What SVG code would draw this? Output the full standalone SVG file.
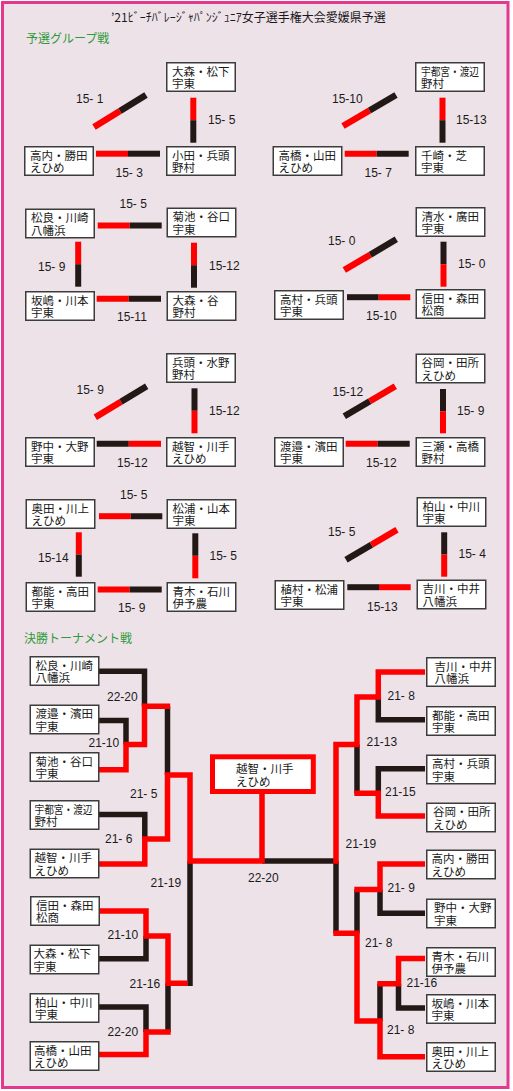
<svg xmlns="http://www.w3.org/2000/svg" width="513" height="1091" viewBox="0 0 513 1091">
<style>
.nm{font-family:"Liberation Sans","Noto Sans CJK JP","Noto Sans CJK SC",sans-serif;font-size:11.5px;fill:#1a1a1a}
.ttl{font-family:"Noto Sans CJK JP","Noto Sans CJK SC",sans-serif;font-size:12px;fill:#1a1a1a}
.hd{font-family:"Noto Sans CJK JP","Noto Sans CJK SC",sans-serif;font-size:12px;fill:#2f9a3a}
.sc{font-family:"Liberation Sans","Noto Sans CJK JP",sans-serif;font-size:12px;fill:#1a1a1a;white-space:pre}
.bx{fill:#fff;stroke:#3c3c3c;stroke-width:1.5}
.r{stroke:#ff0000;stroke-width:6;fill:none}
.k{stroke:#231815;stroke-width:6;fill:none}
.rd{stroke:#ff0000;stroke-width:6.5;fill:none}
.kd{stroke:#231815;stroke-width:6.5;fill:none}
.tr{stroke:#ff0000;stroke-width:5.5;fill:none;stroke-linejoin:miter}
.tk{stroke:#231815;stroke-width:5.5;fill:none;stroke-linejoin:miter}
</style>
<rect x="0" y="0" width="513" height="1091" fill="#ffffff"/>
<rect x="2.5" y="2.5" width="505.5" height="1085" fill="#eee2e9" stroke="#e4378f" stroke-width="3"/>
<text class="ttl" x="111" y="21.5">’21ﾋﾞｰﾁﾊﾞﾚｰｼﾞｬﾊﾟﾝｼﾞｭﾆｱ女子選手権大会愛媛県予選</text>
<text class="hd" x="26" y="42.5">予選グループ戦</text>
<text class="hd" x="24" y="642.5">決勝トーナメント戦</text>

<g id="connectors">
<line class="rd" x1="94" y1="127" x2="120" y2="111"/><line class="kd" x1="120" y1="111" x2="146" y2="95"/>
<line class="r" x1="193.3" y1="97.7" x2="193.3" y2="120.2"/><line class="k" x1="193.3" y1="120.2" x2="193.3" y2="142.7"/>
<line class="r" x1="96" y1="153.7" x2="128" y2="153.7"/><line class="k" x1="128" y1="153.7" x2="160" y2="153.7"/>
<line class="rd" x1="343" y1="126" x2="369.5" y2="110.5"/><line class="kd" x1="369.5" y1="110.5" x2="396" y2="95"/>
<line class="r" x1="442.5" y1="97.7" x2="442.5" y2="120.2"/><line class="k" x1="442.5" y1="120.2" x2="442.5" y2="142.7"/>
<line class="r" x1="344.7" y1="153.7" x2="376.7" y2="153.7"/><line class="k" x1="376.7" y1="153.7" x2="408.7" y2="153.7"/>
<line class="r" x1="97.7" y1="225.5" x2="129.7" y2="225.5"/><line class="k" x1="129.7" y1="225.5" x2="161.7" y2="225.5"/>
<line class="r" x1="78.2" y1="241.7" x2="78.2" y2="264.2"/><line class="k" x1="78.2" y1="264.2" x2="78.2" y2="286.7"/>
<line class="r" x1="194" y1="242.7" x2="194" y2="265.2"/><line class="k" x1="194" y1="265.2" x2="194" y2="287.7"/>
<line class="r" x1="96.7" y1="298.7" x2="128.8" y2="298.7"/><line class="k" x1="128.8" y1="298.7" x2="161" y2="298.7"/>
<line class="rd" x1="344.3" y1="270" x2="370.3" y2="254.7"/><line class="kd" x1="370.3" y1="254.7" x2="396.3" y2="239.3"/>
<line class="k" x1="443.5" y1="241.7" x2="443.5" y2="264.2"/><line class="r" x1="443.5" y1="264.2" x2="443.5" y2="286.7"/>
<line class="k" x1="347" y1="297.2" x2="378.7" y2="297.2"/><line class="r" x1="378.7" y1="297.2" x2="410.3" y2="297.2"/>
<line class="rd" x1="95.3" y1="417.3" x2="121" y2="401.8"/><line class="kd" x1="121" y1="401.8" x2="146.7" y2="386.3"/>
<line class="k" x1="194.5" y1="388.3" x2="194.5" y2="410.8"/><line class="r" x1="194.5" y1="410.8" x2="194.5" y2="433.3"/>
<line class="k" x1="96.7" y1="443.8" x2="128.8" y2="443.8"/><line class="r" x1="128.8" y1="443.8" x2="161" y2="443.8"/>
<line class="kd" x1="344.3" y1="416.3" x2="369.8" y2="401.3"/><line class="rd" x1="369.8" y1="401.3" x2="395.3" y2="386.3"/>
<line class="k" x1="443" y1="389" x2="443" y2="411.2"/><line class="r" x1="443" y1="411.2" x2="443" y2="433.3"/>
<line class="r" x1="345.7" y1="443.8" x2="377.7" y2="443.8"/><line class="k" x1="377.7" y1="443.8" x2="409.7" y2="443.8"/>
<line class="r" x1="99" y1="516.2" x2="130.7" y2="516.2"/><line class="k" x1="130.7" y1="516.2" x2="162.3" y2="516.2"/>
<line class="r" x1="78.8" y1="532.3" x2="78.8" y2="554.5"/><line class="k" x1="78.8" y1="554.5" x2="78.8" y2="576.7"/>
<line class="k" x1="195.3" y1="533.3" x2="195.3" y2="555.8"/><line class="r" x1="195.3" y1="555.8" x2="195.3" y2="578.3"/>
<line class="r" x1="97.7" y1="589.5" x2="129.7" y2="589.5"/><line class="k" x1="129.7" y1="589.5" x2="161.7" y2="589.5"/>
<line class="kd" x1="346" y1="559.7" x2="371.5" y2="544.7"/><line class="rd" x1="371.5" y1="544.7" x2="397" y2="529.7"/>
<line class="k" x1="444.2" y1="532.3" x2="444.2" y2="554.5"/><line class="r" x1="444.2" y1="554.5" x2="444.2" y2="576.7"/>
<line class="k" x1="347.3" y1="587.2" x2="379" y2="587.2"/><line class="r" x1="379" y1="587.2" x2="410.7" y2="587.2"/>

<path class="tk" d="M99,671.3 H144.5 V706.3"/>
<path class="tk" d="M99,720.5 H126 V744.5"/>
<path class="tk" d="M167.5,706.3 V775"/>
<path class="tk" d="M99,814.5 H144.8 V839"/>
<path class="tk" d="M99,958.8 H146 V936"/>
<path class="tk" d="M99,1007 H146 V1032"/>
<path class="tk" d="M168,983.3 V1032"/>
<path class="tk" d="M190,861 V986"/>
<path class="tk" d="M425,719.7 H378.3 V697"/>
<path class="tk" d="M357,744.5 V793.3"/>
<path class="tk" d="M425,768.7 H378.3 V793.3"/>
<path class="tk" d="M425,913.3 H380 V889.5"/>
<path class="tk" d="M357,889.5 V933.3"/>
<path class="tk" d="M336,861 V933.3"/>
<path class="tk" d="M425,1008 H398.5 V983.8"/>
<path class="tk" d="M380,983.8 V1021"/>
<path class="tk" d="M262,861 H336"/>
<path class="tr" d="M99,769.7 H126 V744.5 H144.5 V706.3 H170.2"/>
<path class="tr" d="M99,864 H144.8 V839 H167.5 V775 H190 V861 H262 V794"/>
<path class="tr" d="M99,911 H146 V936 H168 V983.3 H187.5"/>
<path class="tr" d="M99,1054.5 H146 V1032 H170.7"/>
<path class="tr" d="M425,672 H378.3 V697 H357 V744.5 H336 V863.7"/>
<path class="tr" d="M425,816 H378.3 V793.3 H354.3"/>
<path class="tr" d="M425,864 H380 V889.5 H354.3"/>
<path class="tr" d="M425,958.5 H398.5 V983.8 H377.3"/>
<path class="tr" d="M425,1056.7 H380 V1021 H357 V933.3 H333.3"/>
</g>

<g id="scores">
<text class="sc" x="76" y="103">15- 1</text>
<text class="sc" x="208" y="124">15- 5</text>
<text class="sc" x="115.5" y="177">15- 3</text>
<text class="sc" x="332" y="103">15-10</text>
<text class="sc" x="456" y="124">15-13</text>
<text class="sc" x="364.5" y="177">15- 7</text>
<text class="sc" x="119.5" y="208">15- 5</text>
<text class="sc" x="38" y="271">15- 9</text>
<text class="sc" x="209" y="270">15-12</text>
<text class="sc" x="117" y="321">15-11</text>
<text class="sc" x="328" y="245">15- 0</text>
<text class="sc" x="458" y="268">15- 0</text>
<text class="sc" x="366" y="320">15-10</text>
<text class="sc" x="76.5" y="394">15- 9</text>
<text class="sc" x="209" y="415">15-12</text>
<text class="sc" x="117" y="467">15-12</text>
<text class="sc" x="332.5" y="396">15-12</text>
<text class="sc" x="457" y="415">15- 9</text>
<text class="sc" x="366" y="467">15-12</text>
<text class="sc" x="120" y="499">15- 5</text>
<text class="sc" x="38" y="562">15-14</text>
<text class="sc" x="209.5" y="560">15- 5</text>
<text class="sc" x="118" y="612">15- 9</text>
<text class="sc" x="328" y="536">15- 5</text>
<text class="sc" x="458.5" y="558">15- 4</text>
<text class="sc" x="367" y="611">15-13</text>
<text class="sc" x="107" y="701">22-20</text>
<text class="sc" x="88.5" y="747">21-10</text>
<text class="sc" x="130" y="798">21- 5</text>
<text class="sc" x="105" y="843">21- 6</text>
<text class="sc" x="150.5" y="887">21-19</text>
<text class="sc" x="107.5" y="939">21-10</text>
<text class="sc" x="129.5" y="988">21-16</text>
<text class="sc" x="107.5" y="1036">22-20</text>
<text class="sc" x="248" y="882">22-20</text>
<text class="sc" x="387.5" y="700">21- 8</text>
<text class="sc" x="366.5" y="746">21-13</text>
<text class="sc" x="385" y="796">21-15</text>
<text class="sc" x="345.5" y="848">21-19</text>
<text class="sc" x="387.5" y="892">21- 9</text>
<text class="sc" x="365" y="947">21- 8</text>
<text class="sc" x="406.5" y="987">21-16</text>
<text class="sc" x="387" y="1034">21- 8</text>
</g>

<g id="g1-omori-matsushita"><rect class="bx" x="166.75" y="62.75" width="68.5" height="28.5"/><text class="nm"><tspan x="172" y="75.5">大森・松下</tspan><tspan x="172" y="88">宇東</tspan></text></g>
<g id="g1-oda-hyoto"><rect class="bx" x="166.75" y="146.75" width="68.5" height="28.5"/><text class="nm"><tspan x="172" y="159.5">小田・兵頭</tspan><tspan x="172" y="172">野村</tspan></text></g>
<g id="g1-takauchi-katsuta"><rect class="bx" x="24.75" y="146.75" width="68.5" height="28.5"/><text class="nm"><tspan x="30" y="159.5">高内・勝田</tspan><tspan x="30" y="172">えひめ</tspan></text></g>

<g id="g2-utsunomiya-watanabe"><rect class="bx" x="415.75" y="62.75" width="68.5" height="28.5"/><text class="nm"><tspan x="421" y="75.5" textLength="58" lengthAdjust="spacingAndGlyphs">宇都宮・渡辺</tspan><tspan x="421" y="88">野村</tspan></text></g>
<g id="g2-senzaki-shiba"><rect class="bx" x="415.75" y="146.75" width="68.5" height="28.5"/><text class="nm"><tspan x="421" y="159.5">千崎・芝</tspan><tspan x="421" y="172">宇東</tspan></text></g>
<g id="g2-takahashi-yamada"><rect class="bx" x="273.25" y="146.75" width="68.5" height="28.5"/><text class="nm"><tspan x="278.5" y="159.5">高橋・山田</tspan><tspan x="278.5" y="172">えひめ</tspan></text></g>

<g id="g3-matsura-kawasaki"><rect class="bx" x="25.75" y="209.25" width="68.5" height="28.5"/><text class="nm"><tspan x="31" y="222">松良・川崎</tspan><tspan x="31" y="234.5">八幡浜</tspan></text></g>
<g id="g3-kikuchi-taniguchi"><rect class="bx" x="167.25" y="208.25" width="68.5" height="28.5"/><text class="nm"><tspan x="172.5" y="221">菊池・谷口</tspan><tspan x="172.5" y="233.5">宇東</tspan></text></g>
<g id="g3-sakashima-kawamoto"><rect class="bx" x="25.75" y="291.75" width="68.5" height="28.5"/><text class="nm"><tspan x="31" y="304.5">坂嶋・川本</tspan><tspan x="31" y="317">宇東</tspan></text></g>
<g id="g3-omori-tani"><rect class="bx" x="167.25" y="291.75" width="68.5" height="28.5"/><text class="nm"><tspan x="172.5" y="304.5">大森・谷</tspan><tspan x="172.5" y="317">野村</tspan></text></g>

<g id="g4-shimizu-hirota"><rect class="bx" x="416.25" y="207.75" width="68.5" height="28.5"/><text class="nm"><tspan x="421.5" y="220.5">清水・廣田</tspan><tspan x="421.5" y="233">宇東</tspan></text></g>
<g id="g4-takamura-hyoto"><rect class="bx" x="274.75" y="290.75" width="68.5" height="28.5"/><text class="nm"><tspan x="280" y="303.5">高村・兵頭</tspan><tspan x="280" y="316">宇東</tspan></text></g>
<g id="g4-nobuta-morita"><rect class="bx" x="416.25" y="289.75" width="68.5" height="28.5"/><text class="nm"><tspan x="421.5" y="302.5">信田・森田</tspan><tspan x="421.5" y="315">松商</tspan></text></g>

<g id="g5-hyoto-mizuno"><rect class="bx" x="166.75" y="353.75" width="68.5" height="28.5"/><text class="nm"><tspan x="172" y="366.5">兵頭・水野</tspan><tspan x="172" y="379">野村</tspan></text></g>
<g id="g5-ochi-kawate"><rect class="bx" x="166.75" y="437.75" width="68.5" height="28.5"/><text class="nm"><tspan x="172" y="450.5">越智・川手</tspan><tspan x="172" y="463">えひめ</tspan></text></g>
<g id="g5-nonaka-ono"><rect class="bx" x="25.75" y="437.75" width="68.5" height="28.5"/><text class="nm"><tspan x="31" y="450.5">野中・大野</tspan><tspan x="31" y="463">宇東</tspan></text></g>

<g id="g6-tanioka-tadokoro"><rect class="bx" x="416.25" y="354.25" width="68.5" height="28.5"/><text class="nm"><tspan x="421.5" y="367">谷岡・田所</tspan><tspan x="421.5" y="379.5">えひめ</tspan></text></g>
<g id="g6-mise-takahashi"><rect class="bx" x="416.25" y="437.75" width="68.5" height="28.5"/><text class="nm"><tspan x="421.5" y="450.5">三瀬・高橋</tspan><tspan x="421.5" y="463">野村</tspan></text></g>
<g id="g6-watanabe-hamada"><rect class="bx" x="274.75" y="437.75" width="68.5" height="28.5"/><text class="nm"><tspan x="280" y="450.5">渡邉・濱田</tspan><tspan x="280" y="463">宇東</tspan></text></g>

<g id="g7-okuda-kawakami"><rect class="bx" x="26.25" y="499.75" width="68.5" height="28.5"/><text class="nm"><tspan x="31.5" y="512.5">奥田・川上</tspan><tspan x="31.5" y="525">えひめ</tspan></text></g>
<g id="g7-matsuura-yamamoto"><rect class="bx" x="167.25" y="499.75" width="68.5" height="28.5"/><text class="nm"><tspan x="172.5" y="512.5">松浦・山本</tspan><tspan x="172.5" y="525">宇東</tspan></text></g>
<g id="g7-tsuno-takata"><rect class="bx" x="26.25" y="582.75" width="68.5" height="28.5"/><text class="nm"><tspan x="31.5" y="595.5">都能・高田</tspan><tspan x="31.5" y="608">宇東</tspan></text></g>
<g id="g7-aoki-ishikawa"><rect class="bx" x="167.25" y="582.75" width="68.5" height="28.5"/><text class="nm"><tspan x="172.5" y="595.5">青木・石川</tspan><tspan x="172.5" y="608">伊予農</tspan></text></g>

<g id="g8-kashiyama-nakagawa"><rect class="bx" x="417.25" y="497.75" width="68.5" height="28.5"/><text class="nm"><tspan x="422.5" y="510.5">柏山・中川</tspan><tspan x="422.5" y="523">宇東</tspan></text></g>
<g id="g8-yoshikawa-nakai"><rect class="bx" x="417.25" y="580.25" width="68.5" height="28.5"/><text class="nm"><tspan x="422.5" y="593">吉川・中井</tspan><tspan x="422.5" y="605.5">八幡浜</tspan></text></g>
<g id="g8-uemura-matsuura"><rect class="bx" x="275.25" y="580.75" width="68.5" height="28.5"/><text class="nm"><tspan x="280.5" y="593.5">植村・松浦</tspan><tspan x="280.5" y="606">宇東</tspan></text></g>

<g id="t-l1"><rect class="bx" x="30.25" y="656.75" width="68.5" height="28.5"/><text class="nm"><tspan x="35.5" y="669.5">松良・川崎</tspan><tspan x="35.5" y="682">八幡浜</tspan></text></g>
<g id="t-l2"><rect class="bx" x="30.25" y="705.25" width="68.5" height="28.5"/><text class="nm"><tspan x="35.5" y="718">渡邉・濱田</tspan><tspan x="35.5" y="730.5">宇東</tspan></text></g>
<g id="t-l3"><rect class="bx" x="30.25" y="752.75" width="68.5" height="28.5"/><text class="nm"><tspan x="35.5" y="765.5">菊池・谷口</tspan><tspan x="35.5" y="778">宇東</tspan></text></g>
<g id="t-l4"><rect class="bx" x="30.25" y="800.75" width="68.5" height="28.5"/><text class="nm"><tspan x="34.5" y="813.5" textLength="58" lengthAdjust="spacingAndGlyphs">宇都宮・渡辺</tspan><tspan x="34.5" y="826">野村</tspan></text></g>
<g id="t-l5"><rect class="bx" x="30.25" y="849.25" width="68.5" height="28.5"/><text class="nm"><tspan x="34.5" y="862">越智・川手</tspan><tspan x="34.5" y="874.5">えひめ</tspan></text></g>
<g id="t-l6"><rect class="bx" x="30.75" y="896.75" width="68.5" height="28.5"/><text class="nm"><tspan x="36" y="909.5">信田・森田</tspan><tspan x="36" y="922">松商</tspan></text></g>
<g id="t-l7"><rect class="bx" x="30.25" y="945.25" width="68.5" height="28.5"/><text class="nm"><tspan x="33.5" y="958">大森・松下</tspan><tspan x="33.5" y="970.5">宇東</tspan></text></g>
<g id="t-l8"><rect class="bx" x="30.25" y="993.75" width="68.5" height="28.5"/><text class="nm"><tspan x="35" y="1006.5">柏山・中川</tspan><tspan x="35" y="1019">宇東</tspan></text></g>
<g id="t-l9"><rect class="bx" x="30.25" y="1041.75" width="68.5" height="28.5"/><text class="nm"><tspan x="34" y="1054.5">高橋・山田</tspan><tspan x="34" y="1067">えひめ</tspan></text></g>

<g id="t-r1"><rect class="bx" x="426.75" y="657.75" width="68.5" height="28.5"/><text class="nm"><tspan x="434.5" y="670.5">吉川・中井</tspan><tspan x="434.5" y="683">八幡浜</tspan></text></g>
<g id="t-r2"><rect class="bx" x="426.75" y="706.75" width="68.5" height="28.5"/><text class="nm"><tspan x="432" y="719.5">都能・高田</tspan><tspan x="432" y="732">宇東</tspan></text></g>
<g id="t-r3"><rect class="bx" x="426.75" y="755.25" width="68.5" height="28.5"/><text class="nm"><tspan x="432" y="768">高村・兵頭</tspan><tspan x="432" y="780.5">宇東</tspan></text></g>
<g id="t-r4"><rect class="bx" x="426.75" y="803.25" width="68.5" height="28.5"/><text class="nm"><tspan x="433" y="816">谷岡・田所</tspan><tspan x="433" y="828.5">えひめ</tspan></text></g>
<g id="t-r5"><rect class="bx" x="426.75" y="850.25" width="68.5" height="28.5"/><text class="nm"><tspan x="431.5" y="863">高内・勝田</tspan><tspan x="431.5" y="875.5">えひめ</tspan></text></g>
<g id="t-r6"><rect class="bx" x="426.75" y="899.25" width="68.5" height="28.5"/><text class="nm"><tspan x="434" y="912">野中・大野</tspan><tspan x="434" y="924.5">宇東</tspan></text></g>
<g id="t-r7"><rect class="bx" x="426.75" y="947.75" width="68.5" height="28.5"/><text class="nm"><tspan x="431.5" y="960.5">青木・石川</tspan><tspan x="431.5" y="973">伊予農</tspan></text></g>
<g id="t-r8"><rect class="bx" x="426.75" y="994.75" width="68.5" height="28.5"/><text class="nm"><tspan x="431.5" y="1007.5">坂嶋・川本</tspan><tspan x="431.5" y="1020">宇東</tspan></text></g>
<g id="t-r9"><rect class="bx" x="426.75" y="1042.75" width="68.5" height="28.5"/><text class="nm"><tspan x="431.5" y="1055.5">奥田・川上</tspan><tspan x="431.5" y="1068">えひめ</tspan></text></g>

<g id="champion"><rect x="212.5" y="756.8" width="100.8" height="34.7" fill="#fff" stroke="#ff0000" stroke-width="5"/><text class="nm"><tspan x="236" y="773">越智・川手</tspan><tspan x="236" y="786">えひめ</tspan></text></g>
</svg>
